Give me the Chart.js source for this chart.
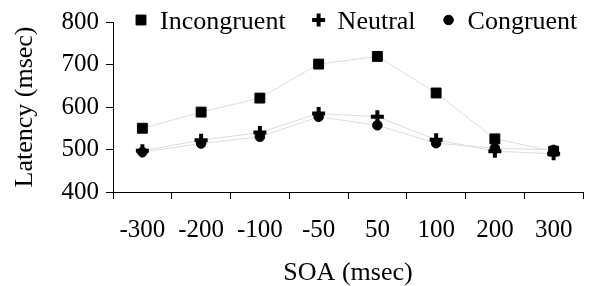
<!DOCTYPE html>
<html>
<head>
<meta charset="utf-8">
<script src="https://cdn.jsdelivr.net/npm/chart.js@4/dist/chart.umd.min.js"></script>
<style>
html,body{margin:0;padding:0;background:#fff;}
#c{display:block;}
</style>
</head>
<body>
<canvas id="c" width="595" height="286"></canvas>
<script>
// SOA conditions (msec) and mean latency per condition
const soaLabels=["-300","-200","-100","-50","50","100","200","300"];
const incongruent=[550,588,621,701,719,633,525,496];
const neutral=[497,522,540,585,577,523,496,490];
const congruent=[494,514,530,577,557,515,503,499];
const yTicks=[400,500,600,700,800];

const FONT="'Liberation Serif','Times New Roman',serif";
const LINE="#dcdcdc";

// order: higher is drawn first (squares at the bottom, crosses on top)
function ds(label,data,style,radius,bw,order){
  return {label,data,order,pointStyle:style,pointRadius:radius,pointHoverRadius:radius,
    pointBackgroundColor:"#000",pointBorderColor:"#000",pointBorderWidth:bw,
    borderColor:LINE,borderWidth:1,fill:false,tension:0};
}

// legend drawn over the top of the plot, like the original
const topLegend={
  id:"topLegend",
  afterDraw(chart){
    const ctx=chart.ctx, y=20;
    ctx.save();
    ctx.font="26px "+FONT; ctx.textBaseline="middle";
    let x=141;
    chart.data.datasets.forEach(d=>{
      ctx.strokeStyle="#000"; ctx.fillStyle="#000";
      ctx.lineWidth=d.pointBorderWidth;
      Chart.helpers.drawPoint(ctx,{pointStyle:d.pointStyle,radius:d.pointRadius,borderWidth:d.pointBorderWidth},x,y);
      ctx.fillStyle="#000";
      ctx.fillText(d.label,x+19,y+2);
      x+=19+ctx.measureText(d.label).width+33;
    });
    ctx.restore();
  }
};

new Chart(document.getElementById("c").getContext("2d"),{
  type:"line",
  data:{labels:soaLabels,datasets:[
    ds("Incongruent",incongruent,"rect",7,1,3),
    ds("Neutral",neutral,"cross",6.5,4,1),
    ds("Congruent",congruent,"circle",4.8,1,2)
  ]},
  options:{
    animation:false,responsive:false,maintainAspectRatio:false,
    layout:{padding:{top:21,right:12,left:0,bottom:0}},
    plugins:{legend:{display:false},tooltip:{enabled:false}},
    scales:{
      x:{
        offset:true,
        grid:{offset:true,drawOnChartArea:false,drawTicks:true,tickLength:7,color:"#000",lineWidth:1},
        border:{display:true,color:"#000",width:1},
        ticks:{color:"#000",font:{family:FONT,size:25},padding:16,maxRotation:0,autoSkip:false},
        title:{display:true,text:"SOA (msec)",color:"#000",font:{family:FONT,size:26,lineHeight:1},padding:{top:0,bottom:0}},
        afterFit(s){ s.height=94; }
      },
      y:{
        min:400,max:800,
        afterBuildTicks(s){ s.ticks=yTicks.map(v=>({value:v})); },
        grid:{drawOnChartArea:false,drawTicks:true,tickLength:7,color:"#000",lineWidth:1},
        border:{display:true,color:"#000",width:1},
        ticks:{color:"#000",font:{family:FONT,size:25},padding:7},
        title:{display:true,text:"Latency (msec)",color:"#000",font:{family:FONT,size:26,lineHeight:1},padding:{top:12,bottom:0}},
        afterFit(s){ s.width=113; }
      }
    }
  },
  plugins:[topLegend]
});
</script>
</body>
</html>
